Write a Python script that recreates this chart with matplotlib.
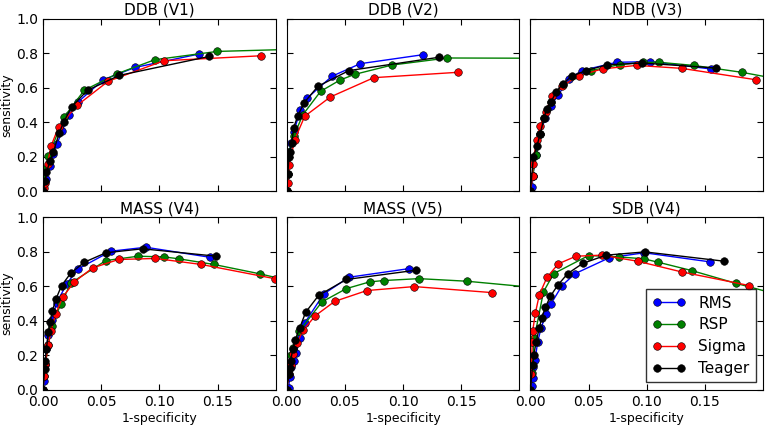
import matplotlib
matplotlib.use('Agg')
import matplotlib.pyplot as plt

# 各面板的ROC点 (1-specificity, sensitivity)
methods = ['RMS', 'RSP', 'Sigma', 'Teager']
colors = ['#0000ff', '#008000', '#ff0000', '#000000']
titles = ['DDB (V1)', 'DDB (V2)', 'NDB (V3)', 'MASS (V4)', 'MASS (V5)', 'SDB (V4)']

# DDB (V1)
p1_rms = ([0, 0.003, 0.006, 0.0089, 0.0123, 0.0163, 0.0226, 0.0298, 0.0518, 0.079, 0.134],
          [0, 0.07, 0.146, 0.218, 0.277, 0.349, 0.445, 0.516, 0.647, 0.718, 0.796])
p1_rsp = ([0, 0.001, 0.002, 0.0046, 0.0183, 0.0355, 0.0638, 0.0961, 0.1496, 0.25],
          [0, 0.05, 0.13, 0.204, 0.432, 0.586, 0.682, 0.763, 0.811, 0.83])
p1_sig = ([0, 0.001, 0.002, 0.004, 0.0069, 0.0135, 0.0295, 0.056, 0.1039, 0.1877],
          [0, 0.02, 0.05, 0.16, 0.262, 0.374, 0.499, 0.638, 0.757, 0.786])
p1_tea = ([0, 0.002, 0.003, 0.006, 0.009, 0.014, 0.0177, 0.0246, 0.0383, 0.0655, 0.1428],
          [0, 0.06, 0.11, 0.175, 0.23, 0.339, 0.40, 0.49, 0.586, 0.672, 0.782])

# DDB (V2)
p2_rms = ([0, 0.001, 0.002, 0.004, 0.006, 0.0117, 0.0177, 0.0389, 0.0632, 0.117],
          [0, 0.1, 0.23, 0.28, 0.343, 0.47, 0.541, 0.667, 0.74, 0.792])
p2_rsp = ([0, 0.001, 0.002, 0.006, 0.014, 0.0292, 0.0458, 0.0584, 0.0904, 0.138, 0.3],
          [0, 0.1, 0.23, 0.32, 0.445, 0.58, 0.645, 0.678, 0.732, 0.773, 0.77])
p2_sig = ([0, 0.001, 0.002, 0.0069, 0.0155, 0.0375, 0.0749, 0.147],
          [0, 0.05, 0.15, 0.30, 0.435, 0.547, 0.659, 0.69])
p2_tea = ([0, 0.001, 0.002, 0.0027, 0.0045, 0.006, 0.0097, 0.0149, 0.0269, 0.0535, 0.1307],
          [0, 0.1, 0.2, 0.23, 0.28, 0.37, 0.439, 0.513, 0.609, 0.70, 0.777])

# NDB (V3)
p3_rms = ([0, 0.0016, 0.002, 0.0049, 0.0083, 0.0129, 0.0178, 0.024, 0.0335, 0.044, 0.0741, 0.103, 0.1556],
          [0, 0.025, 0.09, 0.21, 0.335, 0.425, 0.497, 0.561, 0.651, 0.70, 0.748, 0.752, 0.709])
p3_rsp = ([0, 0.002, 0.0049, 0.0083, 0.0117, 0.0178, 0.0277, 0.0521, 0.077, 0.097, 0.1107, 0.1402, 0.1817, 0.22],
          [0, 0.09, 0.21, 0.33, 0.425, 0.52, 0.617, 0.70, 0.735, 0.748, 0.748, 0.73, 0.69, 0.642])
p3_sig = ([0, 0.002, 0.002, 0.0055, 0.0083, 0.0133, 0.0183, 0.0272, 0.0415, 0.062, 0.0913, 0.1299, 0.1937],
          [0, 0.09, 0.16, 0.30, 0.38, 0.46, 0.55, 0.61, 0.67, 0.71, 0.73, 0.713, 0.647])
p3_tea = ([0, 0.0026, 0.0055, 0.0083, 0.0117, 0.014, 0.0178, 0.0221, 0.0277, 0.0355, 0.0478, 0.0655, 0.0959, 0.1594],
          [0, 0.2, 0.26, 0.33, 0.425, 0.48, 0.52, 0.575, 0.624, 0.667, 0.70, 0.733, 0.744, 0.715])

# MASS (V4)
p4_rms = ([0, 0.0008, 0.002, 0.003, 0.0046, 0.0075, 0.0118, 0.0203, 0.0303, 0.0584, 0.0884, 0.1433],
          [0, 0.05, 0.145, 0.24, 0.32, 0.407, 0.504, 0.614, 0.702, 0.804, 0.827, 0.769])
p4_rsp = ([0, 0.001, 0.002, 0.0046, 0.0075, 0.0155, 0.024, 0.0541, 0.0818, 0.1039, 0.1167, 0.147, 0.1863, 0.22],
          [0, 0.08, 0.15, 0.26, 0.37, 0.50, 0.62, 0.75, 0.775, 0.771, 0.76, 0.727, 0.673, 0.62])
p4_sig = ([0, 0.001, 0.002, 0.0046, 0.0069, 0.0109, 0.0169, 0.0269, 0.0426, 0.065, 0.0967, 0.1362, 0.199],
          [0, 0.08, 0.15, 0.26, 0.343, 0.44, 0.537, 0.626, 0.707, 0.756, 0.762, 0.727, 0.645])
p4_tea = ([0, 0.0015, 0.002, 0.003, 0.0046, 0.006, 0.008, 0.0112, 0.016, 0.0238, 0.0355, 0.0541, 0.0856, 0.149],
          [0, 0.12, 0.17, 0.24, 0.333, 0.393, 0.455, 0.527, 0.605, 0.676, 0.74, 0.795, 0.818, 0.775])

# MASS (V5)
p5_rms = ([0, 0.0017, 0.0026, 0.004, 0.006, 0.0083, 0.0112, 0.0155, 0.0318, 0.0535, 0.105],
          [0, 0.01, 0.075, 0.13, 0.165, 0.213, 0.30, 0.388, 0.556, 0.653, 0.703])
p5_rsp = ([0, 0.002, 0.0034, 0.0054, 0.0106, 0.0303, 0.0512, 0.0712, 0.0833, 0.1136, 0.1548, 0.25],
          [0, 0.15, 0.2, 0.242, 0.339, 0.51, 0.587, 0.626, 0.634, 0.645, 0.63, 0.57])
p5_sig = ([0, 0.002, 0.0034, 0.0054, 0.0089, 0.014, 0.0246, 0.0412, 0.0689, 0.1096, 0.1765],
          [0, 0.09, 0.145, 0.207, 0.272, 0.345, 0.43, 0.513, 0.576, 0.599, 0.564])
p5_tea = ([0, 0.002, 0.0026, 0.0034, 0.0054, 0.0074, 0.0112, 0.0163, 0.0275, 0.0512, 0.1113],
          [0, 0.09, 0.126, 0.17, 0.239, 0.291, 0.359, 0.45, 0.548, 0.64, 0.694])

# SDB (V4)
p6_rms = ([0, 0.001, 0.002, 0.0026, 0.004, 0.0063, 0.0092, 0.0135, 0.0178, 0.0272, 0.0384, 0.0678, 0.0979, 0.1545],
          [0, 0.02, 0.07, 0.13, 0.174, 0.28, 0.359, 0.44, 0.50, 0.605, 0.674, 0.766, 0.795, 0.742])
p6_rsp = ([0, 0.001, 0.0034, 0.0112, 0.02, 0.05, 0.0758, 0.0973, 0.1099, 0.1385, 0.1765, 0.22],
          [0, 0.1, 0.3, 0.568, 0.674, 0.779, 0.771, 0.76, 0.74, 0.692, 0.618, 0.54])
p6_sig = ([0, 0.0005, 0.0017, 0.002, 0.0043, 0.0077, 0.0143, 0.024, 0.0392, 0.0612, 0.0921, 0.1299, 0.188],
          [0, 0.09, 0.28, 0.343, 0.446, 0.552, 0.653, 0.731, 0.775, 0.781, 0.746, 0.684, 0.605])
p6_tea = ([0, 0.002, 0.0029, 0.0049, 0.0077, 0.0097, 0.0129, 0.0172, 0.0234, 0.032, 0.0449, 0.065, 0.0984, 0.1665],
          [0, 0.145, 0.2, 0.278, 0.36, 0.417, 0.479, 0.543, 0.606, 0.674, 0.733, 0.781, 0.80, 0.746])

panels = [
    [p1_rms, p1_rsp, p1_sig, p1_tea],
    [p2_rms, p2_rsp, p2_sig, p2_tea],
    [p3_rms, p3_rsp, p3_sig, p3_tea],
    [p4_rms, p4_rsp, p4_sig, p4_tea],
    [p5_rms, p5_rsp, p5_sig, p5_tea],
    [p6_rms, p6_rsp, p6_sig, p6_tea],
]

plt.rcParams['font.family'] = 'DejaVu Sans'
plt.rcParams['xtick.direction'] = 'in'
plt.rcParams['ytick.direction'] = 'in'
plt.rcParams['xtick.top'] = True
plt.rcParams['ytick.right'] = True

fig, axes = plt.subplots(2, 3, sharex=True, sharey=True, figsize=(7.67, 4.28), dpi=100)
fig.subplots_adjust(left=0.056, right=0.995, top=0.956, bottom=0.089, wspace=0.047, hspace=0.151)

for i, ax in enumerate(axes.flat):
    for (xs, ys), name, c in zip(panels[i], methods, colors):
        ax.plot(xs, ys, '-o', color=c, label=name, lw=1, ms=5.5, mec='k', mew=0.4)
    ax.set_title(titles[i], fontsize=11, pad=3)
    ax.set_xlim(0, 0.2)
    ax.set_ylim(0, 1.0)
    ax.set_xticks([0, 0.05, 0.1, 0.15])
    ax.set_yticks([0, 0.2, 0.4, 0.6, 0.8, 1.0])
    ax.tick_params(labelsize=10, length=4)
    if i % 3 == 0:
        ax.set_ylabel('sensitivity', fontsize=9, labelpad=2)
    if i >= 3:
        ax.set_xlabel('1-specificity', fontsize=9, labelpad=2)
        ax.set_xticklabels(['0.00', '0.05', '0.10', '0.15'])
    ax.set_yticklabels(['0.0', '0.2', '0.4', '0.6', '0.8', '1.0'])

leg = axes[1, 2].legend(loc='lower right', numpoints=2, fontsize=11, fancybox=False,
                        borderaxespad=0.5, handlelength=2.2, labelspacing=0.45)
leg.get_frame().set_edgecolor('black')
leg.get_frame().set_linewidth(1)

fig.savefig('out.png', dpi=100)
